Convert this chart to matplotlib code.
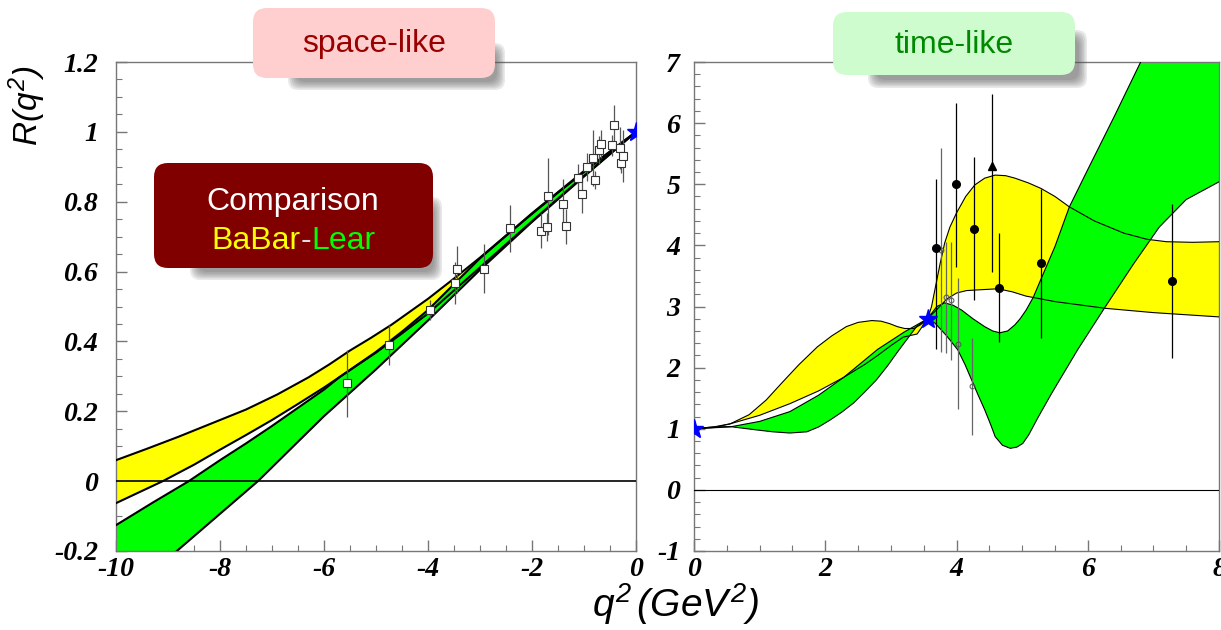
import numpy as np
import matplotlib
matplotlib.use('Agg')
import matplotlib.pyplot as plt
from matplotlib.patches import FancyBboxPatch
from matplotlib.ticker import MultipleLocator

plt.rcParams['mathtext.fontset'] = 'custom'
plt.rcParams['mathtext.it'] = 'Liberation Sans:italic'
plt.rcParams['mathtext.rm'] = 'Liberation Sans:italic'

################################################################################
# space-like region (q^2 < 0)
################################################################################

# BaBar band edges
sl_babar_up_q = [-10, -9.4, -8.8, -8.2, -7.5, -6.9, -6.3, -5.9, -5.5, -5.1, -4.7, -4.35, -4.0,
                 -3.5, -3.0, -2.5, -2.0, -1.5, -1.0, -0.5, 0]
sl_babar_up_R = [0.06, 0.093, 0.127, 0.163, 0.205, 0.248, 0.297, 0.334, 0.374, 0.41, 0.448, 0.485,
                 0.522, 0.58, 0.64, 0.703, 0.765, 0.826, 0.885, 0.943, 1.0]
sl_babar_lo_q = [-10, -9.1, -8.5, -8.0, -7.5, -7.0, -6.5, -6.0, -5.7, -5.0, -4.5, -4.0, -3.0,
                 -2.0, -1.0, 0]
sl_babar_lo_R = [-0.063, 0.0, 0.047, 0.09, 0.132, 0.175, 0.221, 0.268, 0.298, 0.368, 0.423, 0.48,
                 0.612, 0.744, 0.874, 1.0]

# Lear band edges
sl_lear_up_q = [-10, -9.3, -8.6, -8.0, -7.5, -7.0, -6.5, -6.0, -5.7, -5.0, -4.5, -4.0, -3.0,
                -2.0, -1.0, 0]
sl_lear_up_R = [-0.126, -0.062, 0.0, 0.06, 0.108, 0.158, 0.21, 0.262, 0.298, 0.37, 0.428, 0.49,
                0.638, 0.767, 0.888, 1.0]
sl_lear_lo_q = [-10, -8.83, -7.27, -6.0, -5.0, -4.0, -3.0, -2.0, -1.0, 0]
sl_lear_lo_R = [-0.35, -0.2, 0.0, 0.186, 0.32, 0.46, 0.605, 0.742, 0.872, 1.0]

# measurements
sl_q = [-5.55, -4.75, -3.96, -3.48, -3.44, -2.92, -2.42, -1.82, -1.71, -1.70, -1.40, -1.35,
        -1.12, -1.04, -0.95, -0.82, -0.79, -0.72, -0.67, -0.47, -0.43, -0.30, -0.28, -0.25]
sl_R = [0.28, 0.39, 0.49, 0.566, 0.606, 0.608, 0.724, 0.717, 0.727, 0.815, 0.794, 0.73,
        0.869, 0.823, 0.90, 0.924, 0.862, 0.949, 0.966, 0.961, 1.021, 0.955, 0.911, 0.931]
sl_err = [0.095, 0.058, 0.03, 0.06, 0.066, 0.07, 0.067, 0.05, 0.04, 0.11, 0.07, 0.05,
          0.04, 0.055, 0.04, 0.08, 0.025, 0.04, 0.04, 0.03, 0.057, 0.06, 0.03, 0.075]

################################################################################
# time-like region (q^2 > 0)
################################################################################

tl_babar_up_q = [0, 0.3, 0.55, 0.84, 1.1, 1.33, 1.6, 1.88, 2.1, 2.32, 2.5, 2.71, 2.85, 2.98,
                 3.1, 3.21, 3.35, 3.45, 3.56, 3.62, 3.67, 3.75, 3.82, 3.9, 4.0, 4.14, 4.28,
                 4.43, 4.59, 4.75, 4.89, 5.1, 5.29, 5.5, 5.72, 6.1, 6.55, 6.9, 7.2, 7.6, 8.0]
tl_babar_up_R = [1.0, 1.02, 1.08, 1.23, 1.47, 1.74, 2.05, 2.34, 2.52, 2.67, 2.74, 2.77, 2.76, 2.72,
                 2.67, 2.64, 2.64, 2.70, 2.8, 3.0, 3.27, 3.7, 4.04, 4.3, 4.53, 4.8, 4.99,
                 5.1, 5.15, 5.14, 5.1, 5.02, 4.93, 4.8, 4.63, 4.4, 4.2, 4.1, 4.06, 4.05, 4.06]
tl_babar_lo_q = [0, 0.3, 0.55, 1.0, 1.46, 1.9, 2.28, 2.6, 2.8, 3.0, 3.19, 3.4, 3.56, 3.7, 3.85,
                 4.0, 4.15, 4.3, 4.63, 4.85, 5.06, 5.5, 6.27, 7.0, 8.0]
tl_babar_lo_R = [1.0, 1.03, 1.08, 1.22, 1.41, 1.62, 1.84, 2.05, 2.2, 2.36, 2.5, 2.55, 2.8, 2.95, 3.12,
                 3.22, 3.26, 3.27, 3.29, 3.24, 3.17, 3.08, 2.97, 2.9, 2.83]

tl_lear_up_q = [0, 0.55, 1.0, 1.46, 1.9, 2.28, 2.8, 3.2, 3.56, 3.7, 3.82, 3.95, 4.08, 4.25,
                4.43, 4.55, 4.66, 4.78, 4.89, 4.97, 5.06, 5.17, 5.28, 5.5, 5.72, 6.0, 6.4,
                6.82, 7.4, 8.0]
tl_lear_up_R = [1.0, 1.03, 1.12, 1.28, 1.55, 1.84, 2.3, 2.58, 2.8, 3.0, 3.06, 3.02, 2.94, 2.8,
                2.67, 2.6, 2.57, 2.6, 2.7, 2.8, 2.94, 3.15, 3.43, 3.98, 4.63, 5.24, 6.1,
                7.03, 8.3, 9.6]
tl_lear_lo_q = [0, 0.3, 0.55, 0.96, 1.2, 1.46, 1.72, 1.9, 2.07, 2.25, 2.43, 2.6, 2.78, 2.95,
                3.09, 3.25, 3.39, 3.56, 3.67, 3.85, 4.02, 4.13, 4.23, 4.33, 4.43, 4.52, 4.59,
                4.7, 4.82, 4.92, 5.01, 5.1, 5.25, 5.45, 5.85, 6.27, 6.7, 7.09, 7.5, 8.0]
tl_lear_lo_R = [1.0, 1.03, 1.035, 0.98, 0.95, 0.93, 0.95, 1.03, 1.14, 1.27, 1.42, 1.6, 1.80, 2.03,
                2.24, 2.47, 2.67, 2.8, 2.73, 2.52, 2.29, 2.05, 1.80, 1.55, 1.31, 1.07, 0.87,
                0.73, 0.68, 0.7, 0.76, 0.9, 1.2, 1.58, 2.3, 3.0, 3.7, 4.3, 4.75, 5.04]

# filled circles
tl_q = [3.69, 3.99, 4.27, 4.65, 5.29, 7.29]
tl_R = [3.96, 5.0, 4.27, 3.31, 3.71, 3.42]
tl_hi = [5.08, 6.33, 5.44, 4.21, 4.93, 4.68]
tl_lo = [2.3, 3.65, 3.10, 2.42, 2.48, 2.16]
# triangle
tri_q, tri_R, tri_hi, tri_lo = [4.54], [5.30], [6.48], [3.57]
# open points
op_q = [3.76, 3.84, 3.91, 4.03, 4.24]
op_R = [3.92, 3.15, 3.10, 2.39, 1.70]
op_hi = [5.6, 4.06, 4.06, 3.46, 2.48]
op_lo = [2.26, 2.24, 2.12, 1.32, 0.90]

# normalisation points
star_q = [0.0, 3.56]
star_R = [1.0, 2.8]

YELLOW = '#ffff00'
GREEN = '#00ff00'
FRAME = '#777777'

W, H = 1221, 630
fig = plt.figure(figsize=(W / 100, H / 100), dpi=100)
ax1 = fig.add_axes([116 / W, 79 / H, 520 / W, 489 / H])
ax2 = fig.add_axes([694 / W, 79 / H, 525 / W, 489 / H])


def band(ax, uq, uR, lq, lR, color, lw):
    xs = np.concatenate([uq, lq[::-1]])
    ys = np.concatenate([uR, lR[::-1]])
    ax.fill(xs, ys, color=color, lw=0, zorder=2)
    ax.plot(uq, uR, color='k', lw=lw, zorder=3)
    ax.plot(lq, lR, color='k', lw=lw, zorder=3)


def style(ax, xmin, ymin):
    for s in ax.spines.values():
        s.set_color(FRAME)
        s.set_linewidth(1.0)
    ax.xaxis.set_minor_locator(MultipleLocator(xmin))
    ax.yaxis.set_minor_locator(MultipleLocator(ymin))
    ax.tick_params(which='both', direction='in', color=FRAME, top=False, right=False)
    ax.tick_params(which='major', length=8, width=1)
    ax.tick_params(which='minor', length=4, width=0.8)
    for lab in ax.get_xticklabels() + ax.get_yticklabels():
        lab.set_fontfamily('Liberation Serif')
        lab.set_fontweight('bold')
        lab.set_fontstyle('italic')
        lab.set_fontsize(20)


# space-like panel
band(ax1, np.array(sl_babar_up_q), np.array(sl_babar_up_R),
     np.array(sl_babar_lo_q), np.array(sl_babar_lo_R), YELLOW, 1.5)
band(ax1, np.array(sl_lear_up_q), np.array(sl_lear_up_R),
     np.array(sl_lear_lo_q), np.array(sl_lear_lo_R), GREEN, 1.5)
ax1.axhline(0, color='k', lw=1.2, zorder=3)
ax1.errorbar(sl_q, sl_R, yerr=sl_err, fmt='s', ms=5.5, mfc='white', mec='#333333',
             mew=0.8, ecolor='#555555', elinewidth=0.9, capsize=0, zorder=4)
ax1.plot([0], [1], marker='*', ms=14, color='#0000ff', zorder=5)
ax1.set_xlim(-10, 0)
ax1.set_ylim(-0.2, 1.2)
ax1.set_xticks(np.arange(-10, 1, 2))
ax1.set_xticklabels(['-10', '-8', '-6', '-4', '-2', '0'])
ax1.set_yticks([-0.2, 0, 0.2, 0.4, 0.6, 0.8, 1.0, 1.2])
ax1.set_yticklabels(['-0.2', '0', '0.2', '0.4', '0.6', '0.8', '1', '1.2'])
style(ax1, 0.5, 0.05)
ax1.tick_params(axis='y', pad=13)
ax1.tick_params(axis='x', pad=4)

# time-like panel
band(ax2, np.array(tl_babar_up_q), np.array(tl_babar_up_R),
     np.array(tl_babar_lo_q), np.array(tl_babar_lo_R), YELLOW, 0.8)
band(ax2, np.array(tl_lear_up_q), np.array(tl_lear_up_R),
     np.array(tl_lear_lo_q), np.array(tl_lear_lo_R), GREEN, 0.8)
ax2.axhline(0, color='k', lw=0.8, zorder=3)
op_err = [np.array(op_R) - np.array(op_lo), np.array(op_hi) - np.array(op_R)]
ax2.errorbar(op_q, op_R, yerr=op_err, fmt='o', ms=3.5, mfc='none', mec='#555555',
             mew=0.7, ecolor='#666666', elinewidth=0.9, capsize=0, zorder=4)
tl_err = [np.array(tl_R) - np.array(tl_lo), np.array(tl_hi) - np.array(tl_R)]
ax2.errorbar(tl_q, tl_R, yerr=tl_err, fmt='o', ms=5.5, color='k',
             elinewidth=0.9, capsize=0, zorder=5)
tri_err = [np.array(tri_R) - np.array(tri_lo), np.array(tri_hi) - np.array(tri_R)]
ax2.errorbar(tri_q, tri_R, yerr=tri_err, fmt='^', ms=5.5, color='k',
             elinewidth=0.9, capsize=0, zorder=5)
ax2.plot(star_q, star_R, ls='none', marker='*', ms=14, color='#0000ff', zorder=6)
ax2.set_xlim(0, 8)
ax2.set_ylim(-1, 7)
ax2.set_xticks([0, 2, 4, 6, 8])
ax2.set_xticklabels(['0', '2', '4', '6', '8'])
ax2.set_yticks(range(-1, 8))
ax2.set_yticklabels([str(v) for v in range(-1, 8)])
style(ax2, 0.5, 0.2)
ax2.tick_params(axis='y', pad=10)
ax2.tick_params(axis='x', pad=4)

# axis titles
fig.text(27 / W, 1 - 66 / H, r'$R(q^2)$', rotation=90, ha='center', va='top', fontsize=24)
fig.text(676 / W, 1 - 604 / H, r'$q^2\,(GeV^2)$', ha='center', va='center', fontsize=28)


def px(x, y):
    # pixel position (y measured from the top) -> inches
    return x / 100, (H - y) / 100


def label_box(x0, y0, x1, y1, face, sh):
    # soft drop shadow first, then the rounded box
    sx0, sy0, sx1, sy1 = sh
    for k in range(6):
        g = k * 1.6
        bx, by = px(sx0 + g, sy1 - g)
        p = FancyBboxPatch((bx, by), (sx1 - sx0 - 2 * g) / 100, (sy1 - sy0 - 2 * g) / 100,
                           boxstyle='round,pad=0,rounding_size=0.1',
                           transform=fig.dpi_scale_trans, fc='#555555', ec='none',
                           alpha=0.13, zorder=10)
        fig.patches.append(p)
    bx, by = px(x0, y1)
    p = FancyBboxPatch((bx, by), (x1 - x0) / 100, (y1 - y0) / 100,
                       boxstyle='round,pad=0,rounding_size=0.14',
                       transform=fig.dpi_scale_trans, fc=face, ec='none', zorder=11)
    fig.patches.append(p)


label_box(253, 8, 495, 78, '#ffcece', (288, 43, 505, 90))
fig.text(374 / W, 1 - 44 / H, 'space-like', ha='center', va='center', fontsize=23,
         color='#990000', family='Liberation Sans', zorder=12)

label_box(833, 12, 1075, 75, '#cffccf', (868, 30, 1087, 88))
fig.text(954 / W, 1 - 45 / H, 'time-like', ha='center', va='center', fontsize=23,
         color='#008800', family='Liberation Sans', zorder=12)

label_box(154, 163, 433, 268, '#800000', (190, 197, 442, 280))
fig.text(293 / W, 1 - 202 / H, 'Comparison', ha='center', va='center', fontsize=23,
         color='white', family='Liberation Sans', zorder=12)
dash = fig.text(306 / W, 1 - 241 / H, '-', ha='center', va='center', fontsize=23,
                color='#dddddd', family='Liberation Sans', zorder=12)
fig.texts.append(plt.Annotation('BaBar', xy=(0, 0.5), xycoords=dash, ha='right', va='center',
                                fontsize=23, color=YELLOW, family='Liberation Sans', zorder=12))
fig.texts.append(plt.Annotation('Lear', xy=(1, 0.5), xycoords=dash, ha='left', va='center',
                                fontsize=23, color=GREEN, family='Liberation Sans', zorder=12))
for t in fig.texts[-2:]:
    t.set_figure(fig)

fig.savefig('out.png', dpi=100)
